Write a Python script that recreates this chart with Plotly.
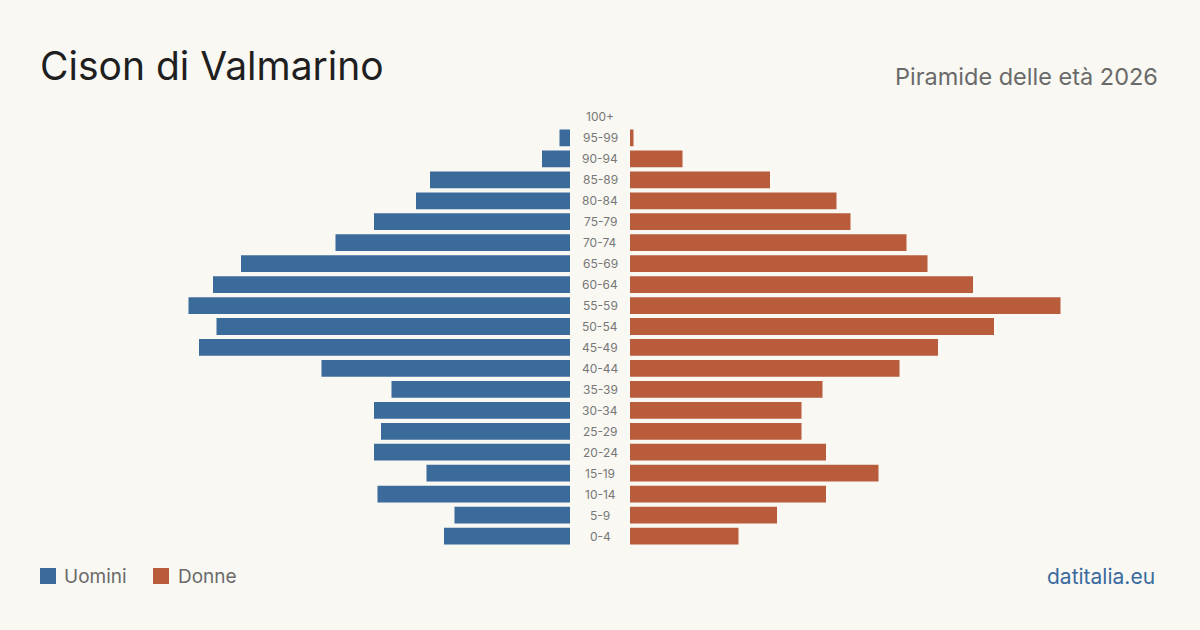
import plotly.graph_objects as go

W, H = 1200, 630
age_groups = ["0-4", "5-9", "10-14", "15-19", "20-24", "25-29", "30-34", "35-39",
              "40-44", "45-49", "50-54", "55-59", "60-64", "65-69", "70-74",
              "75-79", "80-84", "85-89", "90-94", "95-99", "100+"]
uomini = [36, 33, 55, 41, 56, 54, 56, 51, 71, 106, 101, 109, 102, 94, 67, 56, 44, 40, 8, 3, 0]
donne = [31, 42, 56, 71, 56, 49, 49, 55, 77, 88, 104, 123, 98, 85, 79, 63, 59, 40, 15, 1, 0]

title = "Cison di Valmarino"
subtitle = "Piramide delle età 2026"
source = "datitalia.eu"
label_m = "Uomini"
label_f = "Donne"

BLUE = "#3b6b9b"
ORANGE = "#b95c3c"
BG = "#f9f8f3"
FONT = "Inter, 'Noto Sans', sans-serif"

# layout in pixels
left_edge = 570
right_edge = 630
scale = 3.5  # px per person
y_top_px, y_bot_px = 106.5, 546.5

fig = go.Figure()
fig.add_trace(go.Bar(y=age_groups, x=uomini, orientation="h", marker_color=BLUE,
                     marker_line_width=0,
                     xaxis="x", yaxis="y", name=label_m, showlegend=False,
                     hoverinfo="x+y"))
fig.add_trace(go.Bar(y=age_groups, x=donne, orientation="h", marker_color=ORANGE,
                     marker_line_width=0,
                     xaxis="x2", yaxis="y", name=label_f, showlegend=False,
                     hoverinfo="x+y"))

ann = []
for g in age_groups:
    ann.append(dict(x=600 / W, y=g, xref="paper", yref="y", text=g, showarrow=False,
                    xanchor="center", yanchor="middle",
                    font=dict(family=FONT, size=12, color="#777777")))

ann.append(dict(x=38 / W, y=1 - 66 / H, xref="paper", yref="paper", text=title,
                showarrow=False, xanchor="left", yanchor="middle",
                font=dict(family=FONT, size=39, color="#1f1f1f")))
ann.append(dict(x=1160 / W, y=1 - 76 / H, xref="paper", yref="paper", text=subtitle,
                showarrow=False, xanchor="right", yanchor="middle",
                font=dict(family=FONT, size=23.5, color="#6a6a6a")))
ann.append(dict(x=1157 / W, y=1 - 576 / H, xref="paper", yref="paper", text=source,
                showarrow=False, xanchor="right", yanchor="middle",
                font=dict(family=FONT, size=21, color="#3a6a9e")))
ann.append(dict(x=62 / W, y=1 - 576 / H, xref="paper", yref="paper", text=label_m,
                showarrow=False, xanchor="left", yanchor="middle",
                font=dict(family=FONT, size=19, color="#6a6a6a")))
ann.append(dict(x=176 / W, y=1 - 576 / H, xref="paper", yref="paper", text=label_f,
                showarrow=False, xanchor="left", yanchor="middle",
                font=dict(family=FONT, size=19, color="#6a6a6a")))

shapes = [
    dict(type="rect", xref="paper", yref="paper", x0=40 / W, x1=56 / W,
         y0=1 - 584 / H, y1=1 - 568 / H, fillcolor=BLUE, line_width=0),
    dict(type="rect", xref="paper", yref="paper", x0=153 / W, x1=169 / W,
         y0=1 - 584 / H, y1=1 - 568 / H, fillcolor=ORANGE, line_width=0),
]

fig.update_layout(
    width=W, height=H,
    margin=dict(l=0, r=0, t=0, b=0),
    paper_bgcolor=BG, plot_bgcolor=BG,
    bargap=0.2,
    xaxis=dict(domain=[0, left_edge / W], range=[left_edge / scale, 0],
               visible=False, fixedrange=True),
    xaxis2=dict(domain=[right_edge / W, 1], range=[0, (W - right_edge) / scale],
                visible=False, anchor="y", fixedrange=True),
    yaxis=dict(type="category", categoryorder="array", categoryarray=age_groups,
               range=[-0.5, len(age_groups) - 0.5],
               domain=[1 - y_bot_px / H, 1 - y_top_px / H], visible=False),
    annotations=ann,
    shapes=shapes,
)

fig.write_html("out.html")
